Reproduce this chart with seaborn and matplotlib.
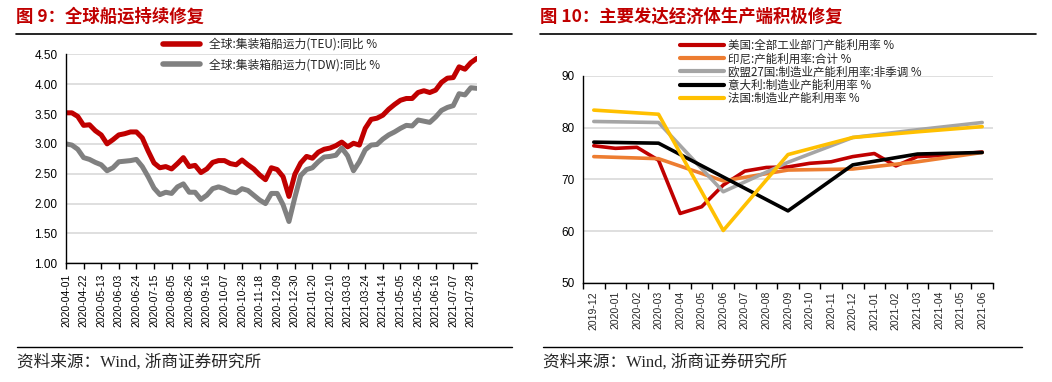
import numpy as np
import pandas as pd
import matplotlib
matplotlib.use("Agg")
import matplotlib.pyplot as plt
import seaborn as sns
from matplotlib.lines import Line2D

sns.set_theme(style="white")
plt.rcParams['font.family'] = ['Liberation Sans', 'Noto Sans CJK SC', 'DejaVu Sans']

CJK = ['Noto Sans CJK SC', 'DejaVu Sans']
TITLE_RED = "#C00000"

#%% data: left chart (weekly, from 2020-04-01)
start_date = "2020-04-01"
teu = [3.52, 3.52, 3.46, 3.31, 3.32, 3.22, 3.15, 3.00, 3.07, 3.15, 3.17, 3.20,
       3.20, 3.10, 2.88, 2.68, 2.60, 2.62, 2.58, 2.67, 2.77, 2.62, 2.64, 2.52,
       2.58, 2.69, 2.72, 2.72, 2.67, 2.65, 2.73, 2.65, 2.58, 2.48, 2.40, 2.60,
       2.57, 2.45, 2.12, 2.49, 2.68, 2.79, 2.76, 2.86, 2.91, 2.93, 2.97, 3.03,
       2.95, 3.01, 2.98, 3.26, 3.41, 3.43, 3.48, 3.58, 3.66, 3.73, 3.76, 3.76,
       3.86, 3.89, 3.86, 3.90, 4.03, 4.10, 4.11, 4.29, 4.25, 4.36, 4.43]
tdw = [3.00, 2.98, 2.91, 2.77, 2.74, 2.69, 2.65, 2.55, 2.60, 2.70, 2.71, 2.72,
       2.74, 2.62, 2.45, 2.26, 2.15, 2.19, 2.17, 2.28, 2.33, 2.19, 2.19, 2.07,
       2.14, 2.25, 2.28, 2.25, 2.20, 2.18, 2.25, 2.22, 2.14, 2.06, 2.00, 2.17,
       2.17, 1.98, 1.70, 2.10, 2.47, 2.57, 2.60, 2.70, 2.78, 2.79, 2.81, 2.93,
       2.80, 2.55, 2.70, 2.90, 2.98, 2.99, 3.08, 3.15, 3.20, 3.26, 3.31, 3.30,
       3.40, 3.38, 3.36, 3.45, 3.56, 3.61, 3.64, 3.84, 3.82, 3.94, 3.93]
left_names = ["全球:集装箱船运力(TEU):同比 %", "全球:集装箱船运力(TDW):同比 %"]
left_colors = ["#C00000", "#808080"]

#%% data: right chart (monthly categories)
months = ["2019-12", "2020-01", "2020-02", "2020-03", "2020-04", "2020-05",
          "2020-06", "2020-07", "2020-08", "2020-09", "2020-10", "2020-11",
          "2020-12", "2021-01", "2021-02", "2021-03", "2021-04", "2021-05",
          "2021-06"]
usa = [76.5, 76.0, 76.2, 73.7, 63.4, 64.7, 68.9, 71.6, 72.3, 72.4, 73.1, 73.4,
       74.4, 75.0, 72.6, 74.4, 74.6, 74.9, 75.3]
indonesia = [74.4, None, None, 74.0, None, None, 69.7, None, None, 71.8, None, None,
             72.0, None, None, 73.4, None, None, 75.2]
eu27 = [81.2, None, None, 81.0, None, None, 67.6, None, None, 73.3, None, None,
        78.1, None, None, 79.6, None, None, 81.0]
italy = [77.2, None, None, 77.0, None, None, None, None, None, 63.9, None, None,
         72.8, None, None, 74.9, None, None, 75.2]
france = [83.4, None, None, 82.6, None, None, 60.1, None, None, 74.8, None, None,
          78.1, None, None, 79.2, None, None, 80.2]
right_names = ["美国:全部工业部门产能利用率 %", "印尼:产能利用率:合计 %",
               "欧盟27国:制造业产能利用率:非季调 %", "意大利:制造业产能利用率 %",
               "法国:制造业产能利用率 %"]
right_colors = ["#C00000", "#ED7D31", "#A5A5A5", "#000000", "#FFC000"]

#%% build frames
weeks = pd.date_range(start_date, periods=len(teu), freq="7D")
df_left = pd.concat([
    pd.DataFrame({"date": weeks, "value": teu, "series": left_names[0]}),
    pd.DataFrame({"date": weeks, "value": tdw, "series": left_names[1]}),
])

frames = []
for name, vals in zip(right_names, [usa, indonesia, eu27, italy, france]):
    frames.append(pd.DataFrame({"pos": np.arange(len(months)), "value": vals, "series": name}))
df_right = pd.concat(frames).dropna()
df_right["value"] = df_right["value"].astype(float)

W, H = 1052, 382
fig = plt.figure(figsize=(W / 100, H / 100), dpi=100)


def fx(px):
    return px / W


def fy(py):
    return 1 - py / H


def style_axes(ax):
    for side in ["top", "right"]:
        ax.spines[side].set_visible(False)
    for side in ["left", "bottom"]:
        ax.spines[side].set_color("black")
        ax.spines[side].set_linewidth(1.0)
    ax.set_axisbelow(True)
    ax.yaxis.grid(True, color="#D9D9D9", linewidth=1.2)
    ax.xaxis.grid(False)
    ax.set_xlabel("")
    ax.set_ylabel("")
    ax.tick_params(axis="y", length=0, labelsize=8.5, pad=6, colors="black")
    ax.tick_params(axis="x", which="major", direction="out", length=4, width=1,
                   color="black", labelsize=7.5, labelcolor="black", bottom=True)


#%% left chart
ax1 = fig.add_axes([fx(66), fy(263.3), fx(476.7 - 66), (263.3 - 54.3) / H])
sns.lineplot(data=df_left, x="date", y="value", hue="series", hue_order=left_names,
             palette=left_colors, linewidth=3.6, legend=False, ax=ax1)
style_axes(ax1)
ax1.set_ylim(1.0, 4.5)
ax1.set_yticks(np.arange(1.0, 4.51, 0.5))
ax1.set_yticklabels(["%.2f" % v for v in np.arange(1.0, 4.51, 0.5)])
ax1.set_xlim(weeks[0], weeks[-1])
tick_dates = pd.date_range(start_date, "2021-07-28", freq="21D")
ax1.set_xticks(tick_dates)
ax1.set_xticklabels([d.strftime("%Y-%m-%d") for d in tick_dates], rotation=90)
ax1.legend(ax1.get_lines()[:2], left_names, loc="upper left",
           bbox_to_anchor=(fx(163), fy(38)), bbox_transform=fig.transFigure,
           frameon=False, prop={"family": CJK, "size": 8.5}, borderpad=0,
           borderaxespad=0, handlelength=3.1, handletextpad=0.8, labelspacing=0.6)
for leg_line in ax1.get_legend().get_lines():
    leg_line.set_linewidth(4.0)

#%% right chart
ax2 = fig.add_axes([fx(583), fy(282.7), fx(993 - 583), (282.7 - 76) / H])
sns.lineplot(data=df_right, x="pos", y="value", hue="series", hue_order=right_names,
             palette=right_colors, linewidth=2.6, legend=False, ax=ax2)
style_axes(ax2)
ax2.set_ylim(50, 90)
ax2.set_yticks([50, 60, 70, 80, 90])
ax2.set_xlim(-0.5, len(months) - 0.5)
ax2.set_xticks(np.arange(-0.5, len(months), 1.0))
ax2.set_xticklabels([])
ax2.set_xticks(np.arange(len(months)), minor=True)
ax2.set_xticklabels(months, minor=True, rotation=90)
ax2.tick_params(axis="x", which="minor", length=0, labelsize=7.5, pad=6, bottom=True)
ax2.legend(ax2.get_lines()[:5], right_names, loc="upper left",
           bbox_to_anchor=(fx(680), fy(39)), bbox_transform=fig.transFigure,
           frameon=False, prop={"family": CJK, "size": 8.3}, borderpad=0,
           borderaxespad=0, handlelength=3.8, handletextpad=0.4, labelspacing=0.02)
for leg_line in ax2.get_legend().get_lines():
    leg_line.set_linewidth(3.0)

#%% titles, rules and source notes
fig.text(fx(16), fy(17), "图 9：全球船运持续修复", fontsize=12.5, fontweight="bold",
         color=TITLE_RED, family=CJK, va="center", ha="left")
fig.text(fx(540), fy(17), "图 10：主要发达经济体生产端积极修复", fontsize=12.5,
         fontweight="bold", color=TITLE_RED, family=CJK, va="center", ha="left")
for x0, x1 in [(16, 512), (540, 1036)]:
    fig.add_artist(Line2D([fx(x0), fx(x1)], [fy(34), fy(34)], color="black", lw=1.2))
for x0, x1 in [(17, 512), (543, 1022)]:
    fig.add_artist(Line2D([fx(x0), fx(x1)], [fy(347), fy(347)], color="black", lw=1.0))
for x0 in [17, 543]:
    fig.text(fx(x0), fy(362), "资料来源：Wind, 浙商证券研究所", fontsize=12,
             family=['Liberation Serif', 'Noto Sans CJK SC'], va="center", ha="left")

fig.savefig("out.png", dpi=100)
